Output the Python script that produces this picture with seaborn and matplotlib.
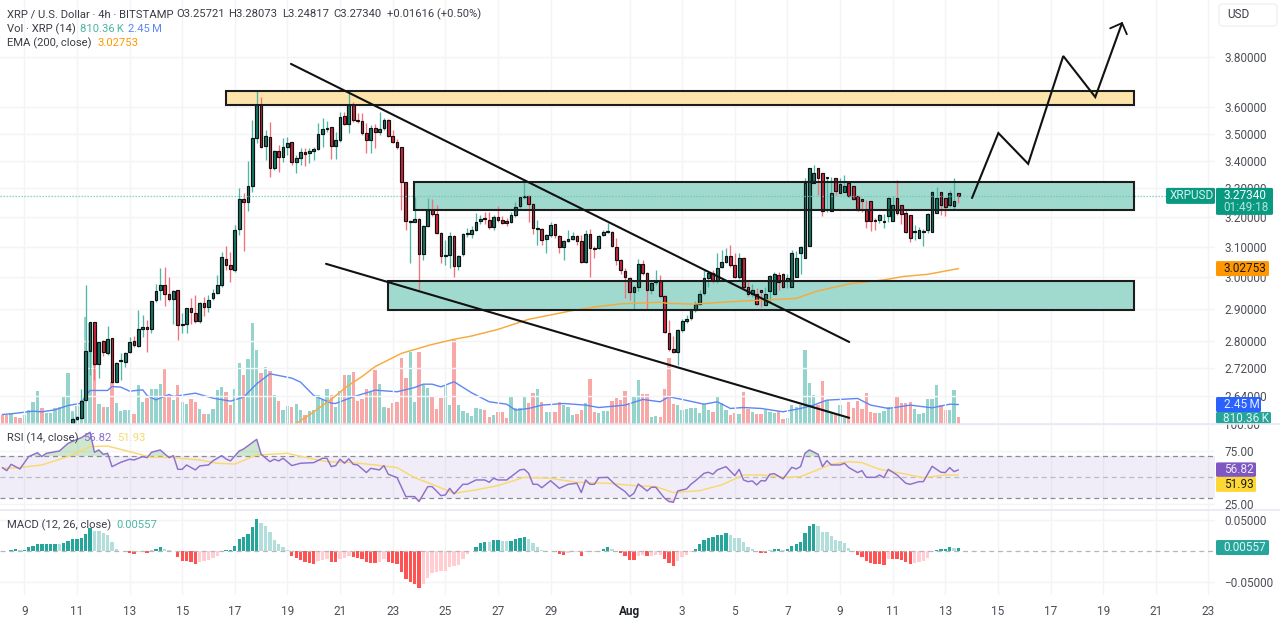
"""
XRP/USD 4h chart with volume, EMA, RSI and MACD panes
"""
import matplotlib
matplotlib.use('Agg')
import matplotlib.pyplot as plt
from matplotlib.patches import FancyBboxPatch, Rectangle
import numpy as np
import pandas as pd
import seaborn as sns

# bar number 0 is 9 July 00:00, one bar every 4 hours, first bar -5
bars = list(range(-5, 214))

opens = [
    2.335, 2.325, 2.320, 2.335, 2.330, 2.325, 2.345, 2.360, 2.385, 2.410, 2.395, 2.410, 2.420, 2.440, 2.460, 2.500,
    2.565, 2.576, 2.579, 2.629, 2.771, 2.859, 2.733, 2.801, 2.765, 2.810,
    2.680, 2.740, 2.739, 2.768, 2.801, 2.786, 2.837, 2.844, 2.837, 2.927,
    2.959, 2.975, 2.946, 2.930, 2.959, 2.850, 2.853, 2.902, 2.887, 2.862,
    2.918, 2.905, 2.934, 2.950, 2.975, 3.059, 3.040, 3.023, 3.159, 3.263,
    3.252, 3.308, 3.483, 3.609, 3.454, 3.487, 3.373, 3.435, 3.413, 3.450,
    3.469, 3.395, 3.410, 3.432, 3.428, 3.435, 3.443, 3.498, 3.517, 3.525,
    3.454, 3.476, 3.566, 3.536, 3.609, 3.551, 3.547, 3.502, 3.476, 3.521,
    3.506, 3.521, 3.551, 3.491, 3.469, 3.450, 3.323, 3.183, 3.183, 3.193,
    3.076, 3.170, 3.224, 3.210, 3.146, 3.069, 3.072, 3.136, 3.036, 3.076,
    3.142, 3.142, 3.156, 3.187, 3.197, 3.190, 3.166, 3.200, 3.190, 3.187,
    3.183, 3.207, 3.238, 3.270, 3.273, 3.245, 3.159, 3.159, 3.125, 3.139,
    3.176, 3.136, 3.099, 3.119, 3.125, 3.136, 3.119, 3.049, 3.142, 3.095,
    3.095, 3.139, 3.149, 3.149, 3.099, 3.056, 3.020, 2.997, 2.953, 2.969,
    3.043, 3.014, 2.959, 2.985, 2.988, 2.940, 2.825, 2.777, 2.768, 2.834,
    2.862, 2.871, 2.896, 2.915, 2.950, 2.997, 3.014, 2.991, 3.033, 3.049,
    3.069, 3.040, 3.001, 3.063, 2.969, 2.946, 2.946, 2.959, 2.912, 2.956,
    2.946, 3.007, 3.010, 2.988, 2.969, 3.001, 3.079, 3.063, 3.102, 3.319,
    3.373, 3.355, 3.337, 3.221, 3.337, 3.284, 3.287, 3.319, 3.308, 3.273,
    3.263, 3.224, 3.255, 3.190, 3.190, 3.183, 3.204, 3.187, 3.266, 3.241,
    3.214, 3.207, 3.149, 3.129, 3.149, 3.156, 3.149, 3.214, 3.287, 3.266,
    3.241, 3.238, 3.284, 3.257,
][:219]
highs = [
    2.340, 2.330, 2.340, 2.340, 2.335, 2.350, 2.365, 2.390, 2.420, 2.415, 2.415, 2.425, 2.445, 2.465, 2.510, 2.562,
    2.582, 2.585, 2.660, 2.975, 2.859, 2.859, 2.798, 2.804, 2.847, 2.810,
    2.739, 2.765, 2.768, 2.813, 2.816, 2.896, 2.881, 2.865, 2.924, 2.978,
    3.030, 3.033, 3.001, 2.959, 2.959, 2.887, 2.902, 2.934, 2.943, 2.921,
    2.937, 2.943, 2.962, 3.007, 3.082, 3.102, 3.082, 3.173, 3.301, 3.284,
    3.398, 3.551, 3.664, 3.640, 3.513, 3.543, 3.439, 3.458, 3.483, 3.487,
    3.469, 3.421, 3.447, 3.447, 3.447, 3.450, 3.540, 3.559, 3.547, 3.525,
    3.506, 3.582, 3.582, 3.656, 3.620, 3.578, 3.578, 3.540, 3.532, 3.536,
    3.582, 3.559, 3.555, 3.513, 3.480, 3.450, 3.323, 3.190, 3.270, 3.197,
    3.173, 3.266, 3.263, 3.241, 3.149, 3.122, 3.149, 3.139, 3.072, 3.146,
    3.163, 3.170, 3.214, 3.207, 3.217, 3.217, 3.207, 3.238, 3.204, 3.197,
    3.217, 3.252, 3.270, 3.330, 3.277, 3.248, 3.190, 3.163, 3.142, 3.183,
    3.176, 3.139, 3.122, 3.156, 3.149, 3.139, 3.139, 3.156, 3.159, 3.102,
    3.139, 3.156, 3.180, 3.153, 3.129, 3.059, 3.030, 3.001, 2.975, 3.059,
    3.056, 3.017, 2.985, 3.023, 3.007, 2.943, 2.865, 2.816, 2.837, 2.868,
    2.881, 2.902, 2.924, 2.959, 3.026, 3.020, 3.023, 3.079, 3.089, 3.095,
    3.105, 3.079, 3.079, 3.066, 2.991, 2.978, 2.966, 2.959, 2.969, 3.007,
    3.017, 3.017, 3.014, 3.010, 3.089, 3.086, 3.102, 3.337, 3.373, 3.384,
    3.359, 3.337, 3.341, 3.341, 3.308, 3.337, 3.348, 3.323, 3.277, 3.266,
    3.259, 3.259, 3.200, 3.197, 3.210, 3.210, 3.270, 3.273, 3.330, 3.227,
    3.227, 3.156, 3.173, 3.166, 3.159, 3.214, 3.290, 3.305, 3.273, 3.248,
    3.294, 3.337, 3.281,
]
lows = [
    2.320, 2.315, 2.315, 2.325, 2.320, 2.320, 2.340, 2.355, 2.380, 2.390, 2.390, 2.405, 2.415, 2.435, 2.455, 2.495,
    2.562, 2.573, 2.576, 2.626, 2.700, 2.686, 2.692, 2.756, 2.759, 2.677,
    2.680, 2.686, 2.724, 2.765, 2.783, 2.783, 2.813, 2.768, 2.825, 2.921,
    2.927, 2.909, 2.924, 2.853, 2.804, 2.825, 2.825, 2.853, 2.856, 2.856,
    2.877, 2.890, 2.927, 2.946, 2.969, 3.023, 2.985, 3.017, 3.139, 3.086,
    3.221, 3.287, 3.465, 3.447, 3.402, 3.341, 3.366, 3.359, 3.395, 3.421,
    3.384, 3.355, 3.384, 3.380, 3.391, 3.402, 3.439, 3.450, 3.506, 3.406,
    3.406, 3.469, 3.532, 3.502, 3.543, 3.540, 3.495, 3.428, 3.428, 3.447,
    3.495, 3.513, 3.487, 3.465, 3.443, 3.224, 3.156, 3.046, 3.183, 2.959,
    3.056, 3.166, 3.204, 3.142, 3.046, 3.040, 3.030, 3.001, 3.023, 3.069,
    3.132, 3.129, 3.153, 3.176, 3.176, 3.159, 3.156, 3.183, 3.176, 3.170,
    3.180, 3.200, 3.231, 3.263, 3.183, 3.142, 3.105, 3.105, 3.079, 3.132,
    3.129, 3.079, 3.056, 3.115, 3.122, 3.105, 3.046, 3.046, 3.001, 3.063,
    3.092, 3.136, 3.146, 3.099, 3.040, 3.010, 2.934, 2.927, 2.896, 2.956,
    3.007, 2.896, 2.946, 2.975, 2.937, 2.825, 2.771, 2.765, 2.730, 2.828,
    2.856, 2.865, 2.890, 2.912, 2.943, 2.969, 2.982, 2.982, 3.030, 3.046,
    3.033, 2.997, 2.994, 2.959, 2.940, 2.937, 2.912, 2.905, 2.927, 2.918,
    2.975, 2.959, 2.966, 2.966, 2.997, 3.056, 3.010, 3.099, 3.277, 3.344,
    3.277, 3.204, 3.217, 3.277, 3.277, 3.284, 3.294, 3.270, 3.259, 3.221,
    3.217, 3.163, 3.153, 3.156, 3.180, 3.163, 3.183, 3.217, 3.207, 3.176,
    3.146, 3.115, 3.122, 3.146, 3.102, 3.146, 3.210, 3.241, 3.207, 3.204,
    3.234, 3.227, 3.248,
]
closes = [
    2.325, 2.320, 2.335, 2.330, 2.325, 2.345, 2.360, 2.385, 2.410, 2.395, 2.410, 2.420, 2.440, 2.460, 2.500, 2.560,
    2.576, 2.582, 2.626, 2.771, 2.859, 2.733, 2.798, 2.768, 2.807, 2.680,
    2.736, 2.743, 2.765, 2.798, 2.789, 2.837, 2.844, 2.837, 2.924, 2.956,
    2.975, 2.946, 2.930, 2.956, 2.850, 2.853, 2.902, 2.890, 2.862, 2.918,
    2.905, 2.927, 2.950, 2.975, 3.066, 3.040, 3.026, 3.156, 3.263, 3.252,
    3.308, 3.483, 3.609, 3.450, 3.491, 3.373, 3.435, 3.413, 3.450, 3.465,
    3.395, 3.410, 3.432, 3.424, 3.435, 3.443, 3.498, 3.517, 3.521, 3.454,
    3.476, 3.562, 3.536, 3.609, 3.551, 3.547, 3.502, 3.476, 3.521, 3.506,
    3.517, 3.551, 3.491, 3.469, 3.450, 3.323, 3.187, 3.187, 3.193, 3.076,
    3.170, 3.224, 3.210, 3.146, 3.069, 3.072, 3.136, 3.036, 3.069, 3.142,
    3.146, 3.156, 3.183, 3.193, 3.193, 3.166, 3.200, 3.190, 3.180, 3.180,
    3.207, 3.234, 3.270, 3.273, 3.245, 3.163, 3.163, 3.122, 3.139, 3.173,
    3.139, 3.099, 3.119, 3.125, 3.136, 3.119, 3.049, 3.142, 3.095, 3.092,
    3.136, 3.149, 3.153, 3.102, 3.056, 3.023, 3.001, 2.953, 2.969, 3.043,
    3.014, 2.959, 2.982, 2.988, 2.940, 2.828, 2.777, 2.768, 2.834, 2.862,
    2.868, 2.896, 2.915, 2.946, 2.997, 3.014, 2.991, 3.030, 3.049, 3.069,
    3.040, 3.001, 3.063, 2.969, 2.946, 2.959, 2.915, 2.953, 2.946, 3.004,
    3.010, 2.985, 2.969, 2.997, 3.079, 3.063, 3.099, 3.319, 3.373, 3.355,
    3.337, 3.221, 3.337, 3.284, 3.290, 3.316, 3.308, 3.273, 3.263, 3.224,
    3.255, 3.187, 3.187, 3.187, 3.207, 3.187, 3.266, 3.241, 3.214, 3.210,
    3.149, 3.129, 3.149, 3.156, 3.149, 3.210, 3.287, 3.266, 3.241, 3.234,
    3.284, 3.255, 3.2734,
]

# volume in millions
volumes = [
    1.08, 1.12, 1.33, 0.82, 0.69, 1.12, 1.68, 2.75, 4.13, 1.98, 1.38, 1.33, 2.02, 2.11, 3.48, 6.49,
    1.59, 2.32, 2.97, 13.72, 12.94, 7.70, 2.54, 2.11, 2.19, 5.33,
    2.62, 1.55, 1.76, 1.68, 1.25, 4.99, 2.75, 3.31, 4.43, 4.43,
    5.03, 7.05, 3.61, 3.05, 4.99, 2.75, 2.54, 3.18, 2.75, 1.89,
    1.25, 1.25, 1.81, 4.26, 4.77, 4.04, 2.41, 4.47, 7.78, 6.28,
    8.34, 12.90, 9.42, 6.49, 7.27, 6.75, 3.70, 2.84, 1.68, 2.32,
    2.19, 2.45, 1.76, 1.16, 1.55, 1.68, 3.61, 3.18, 4.47, 3.66,
    2.15, 4.17, 6.24, 6.24, 6.67, 2.88, 3.10, 4.39, 4.09, 6.88,
    5.07, 2.15, 1.94, 2.67, 2.80, 8.39, 5.93, 9.25, 2.80, 9.16,
    4.95, 4.52, 3.44, 1.81, 3.23, 4.95, 2.37, 10.75, 2.37, 1.63,
    1.29, 0.95, 2.06, 1.81, 1.72, 0.86, 1.08, 1.51, 1.51, 0.65,
    3.44, 1.94, 1.94, 3.44, 2.67, 3.96, 4.39, 2.80, 1.51, 1.51,
    1.51, 2.80, 2.37, 2.15, 1.08, 1.20, 1.72, 2.58, 5.68, 1.51,
    1.29, 1.63, 1.63, 2.88, 3.23, 3.01, 4.17, 2.67, 3.44, 5.59,
    3.74, 3.74, 0.86, 0.95, 0.86, 4.39, 8.39, 2.49, 2.37, 1.72,
    1.81, 1.94, 1.94, 1.38, 2.49, 1.72, 1.51, 3.44, 2.67, 1.72,
    1.08, 1.29, 1.20, 4.09, 1.81, 1.51, 1.20, 1.20, 1.72, 1.51,
    1.38, 1.63, 0.52, 0.65, 2.37, 2.15, 2.37, 9.46, 5.25, 3.66,
    2.37, 5.50, 3.01, 1.29, 1.20, 2.37, 0.77, 2.80, 1.94, 2.92,
    1.81, 3.87, 1.51, 1.29, 1.38, 1.63, 2.15, 2.15, 3.57, 2.58,
    2.67, 2.80, 1.81, 1.20, 1.29, 3.10, 3.10, 4.95, 2.37, 1.72,
    1.72, 4.30, 0.81,
]

vol_ma_bars = [-5, -3, 2, 4, 7, 10, 13, 14, 15, 19, 20, 22, 24, 27, 28, 30, 33, 34, 39, 43, 47, 50, 53, 56, 61, 63, 66, 70,
               71, 75, 80, 85, 89, 91, 93, 95, 98, 102, 106, 110, 112, 115, 118, 123, 128, 131, 137, 141, 145,
               147, 150, 155, 158, 161, 164, 168, 173, 177, 180, 183, 190, 193, 197, 202, 207, 211, 213]
vol_ma_vals = [1.16, 1.25, 1.59, 1.51, 1.76, 2.32, 2.62, 3.61, 4.26, 4.26, 4.77, 4.69, 4.17, 4.34, 3.61, 3.05, 3.74, 3.48,
               3.91, 3.27, 2.88, 3.40, 5.12, 6.41, 5.85, 5.33, 3.61, 2.62,
               2.58, 3.44, 4.30, 4.09, 4.64, 5.07, 5.07, 4.73, 5.38, 3.96, 2.80, 2.49, 1.72, 1.94, 2.37, 2.58, 2.37,
               2.06, 2.37, 3.10, 2.80,
               3.44, 3.10, 2.49, 2.80, 1.94, 2.06, 1.94, 1.51, 1.94, 2.37, 3.01, 3.23, 2.37, 1.94, 2.37, 2.02, 2.49, 2.45]

ema_bars = [62, 65, 70, 73.5, 77, 80, 86, 92.5, 98, 102, 108, 115, 125, 130.5, 136, 145,
            146.5, 152.5, 158, 165.5, 169, 176, 180.5, 188, 196, 200.5, 206, 213]
ema_vals = [2.564, 2.587, 2.631, 2.667, 2.696, 2.725, 2.764, 2.789, 2.806, 2.816, 2.836, 2.867, 2.894, 2.906, 2.915, 2.920,
            2.917, 2.914, 2.919, 2.925, 2.927, 2.932, 2.954, 2.978, 2.991, 3.002, 3.009, 3.0275]

rsi_bars = [-5, -4, -3, -1, 1, 3, 4, 5, 8, 10, 13, 15, 16, 17, 18, 19, 20, 22, 24, 25, 27, 28, 29, 31, 33, 34, 35, 36, 37, 39,
            40, 42, 43, 45, 46, 47, 49, 50, 53, 54, 56, 57, 58, 59, 61, 63, 66, 68, 69, 70, 71, 72, 73, 74, 75, 76, 78, 79,
            81, 82, 83, 85, 87, 89, 90, 92, 93, 95, 96, 97, 98, 100, 101, 103, 105, 106, 107, 108,
            110, 113, 114, 115, 116, 117, 118, 120, 122, 124, 126, 127, 128, 129, 130, 131, 133, 135, 137, 138, 139, 140,
            142, 143, 144, 146, 147, 148, 149, 151, 152, 153, 155, 156, 157, 158, 160, 162, 163, 164, 165, 166, 167, 168,
            169, 170, 171, 173, 175, 176, 177, 178, 179, 181, 182, 183, 184, 186, 187, 188, 190, 191, 192, 194, 195, 196,
            197, 199, 201, 202, 204, 205, 207, 209, 210, 211, 212, 213]
rsi_vals = [59.0, 56.1, 62.1, 57.7, 69.4, 73.1, 69.4, 72.5, 74.7, 82.0, 87.3, 92.4, 73.5, 75.7, 71.6, 72.5, 59.9, 64.0, 66.9,
            66.2, 69.4, 68.4, 73.5, 75.7, 68.4, 70.3, 57.4, 57.4, 61.5, 56.8,
            60.6, 61.5, 65.3, 70.3, 67.2, 65.3, 74.7, 76.6, 85.7, 71.6, 64.6, 66.9, 65.3, 67.8, 60.9, 63.1, 63.7, 67.8, 67.8,
            59.9, 60.9, 66.9, 63.1, 67.2, 62.1, 61.5, 54.3, 58.3,
            56.8, 60.9, 52.7, 49.5, 31.6, 31.6, 26.9, 41.0, 41.0, 32.5, 33.1, 39.4, 34.1, 43.2, 43.2, 47.3, 47.3, 45.1, 48.9, 47.3,
            47.3, 56.8, 57.4, 53.6, 43.2, 43.2, 40.0, 46.6, 39.4, 43.2, 44.2, 35.4, 47.3, 43.2, 43.2, 49.5, 49.8, 42.0, 36.3,
            31.6, 34.7, 43.5,
            36.9, 40.4, 40.4, 30.0, 26.9, 26.2, 36.9, 38.8, 43.2, 46.4, 53.6, 54.6, 52.7, 56.8, 59.9, 51.4, 57.4, 47.3, 45.7,
            46.4, 42.6, 46.7,
            46.4, 52.7, 53.3, 48.3, 59.3, 57.7, 59.9, 72.5, 75.7, 71.6, 59.9, 65.6, 61.5, 61.5, 63.1, 59.0, 54.3, 56.1, 49.8,
            49.8, 52.0, 49.5,
            57.4, 52.0, 44.2, 43.2, 45.7, 45.7, 60.2, 54.6, 54.3, 59.0, 55.2, 56.82]

rsi_ma_bars = [-5, -1, 4, 10, 15, 19, 24, 29, 33, 40, 44, 48, 53, 60, 64, 69, 74, 80, 85, 89, 93, 98, 103, 108,
               114, 120, 126, 133, 139, 144, 148, 154, 159, 164, 168, 174, 177, 184, 188, 191, 195, 200, 205, 210, 213]
rsi_ma_vals = [58.3, 59.0, 61.5, 69.4, 78.8, 79.4, 74.1, 68.7, 68.7, 66.2, 63.1, 62.4, 70.9, 72.5, 68.7, 64.6, 64.0, 61.5, 59.0,
               49.5, 43.2, 34.7, 37.9, 42.0,
               49.8, 48.9, 45.1, 44.2, 42.0, 41.0, 35.4, 37.2, 42.6, 52.0, 52.0, 49.8, 50.5, 62.1, 64.6, 63.7, 57.4, 53.6, 49.5,
               52.0, 51.93]

macd_hist = [
    0.0005, 0.0008, 0.0021, 0.0027, 0.0011, 0.0016, 0.0059, 0.0080, 0.0112, 0.0115, 0.0116, 0.0117, 0.0118, 0.0115, 0.0123, 0.0161,
    0.0187, 0.0190, 0.0203, 0.0273, 0.0375, 0.0326, 0.0321, 0.0294, 0.0251, 0.0139,
    0.0037, 0.0003, -0.0021, -0.0032, -0.0043, -0.0021, -0.0011, -0.0037, 0.0011, 0.0037,
    0.0059, 0.0037, 0.0011, 0.0002, -0.0102, -0.0155, -0.0161, -0.0171, -0.0203, -0.0171,
    -0.0161, -0.0150, -0.0118, -0.0080, -0.0011, 0.0011, 0.0013, 0.0086, 0.0187, 0.0230,
    0.0273, 0.0385, 0.0508, 0.0444, 0.0396, 0.0300, 0.0182, 0.0118, 0.0059, 0.0021,
    -0.0075, -0.0107, -0.0150, -0.0182, -0.0193, -0.0203, -0.0161, -0.0144, -0.0128, -0.0171,
    -0.0174, -0.0128, -0.0118, -0.0086, -0.0096, -0.0107, -0.0134, -0.0182, -0.0185, -0.0193,
    -0.0182, -0.0134, -0.0182, -0.0198, -0.0214, -0.0332, -0.0449, -0.0492, -0.0530, -0.0589,
    -0.0535, -0.0428, -0.0348, -0.0332, -0.0326, -0.0316, -0.0251, -0.0241, -0.0225, -0.0134,
    -0.0054, 0.0005, 0.0070, 0.0123, 0.0150, 0.0144, 0.0171, 0.0174, 0.0161, 0.0158,
    0.0166, 0.0187, 0.0203, 0.0219, 0.0193, 0.0123, 0.0064, 0.0021, -0.0021, -0.0002,
    -0.0021, -0.0054, -0.0059, -0.0027, -0.0021, -0.0016, -0.0075, -0.0016, -0.0015, -0.0011,
    0.0001, 0.0032, 0.0059, 0.0027, 0.0002, -0.0037, -0.0075, -0.0139, -0.0142, -0.0080,
    -0.0064, -0.0086, -0.0075, -0.0064, -0.0059, -0.0134, -0.0198, -0.0241, -0.0161, -0.0091,
    -0.0064, -0.0021, 0.0037, 0.0112, 0.0171, 0.0214, 0.0225, 0.0251, 0.0262, 0.0284,
    0.0251, 0.0209, 0.0206, 0.0144, 0.0064, 0.0027, -0.0021, -0.0024, -0.0037, 0.0011,
    0.0032, 0.0035, 0.0016, 0.0032, 0.0086, 0.0107, 0.0139, 0.0284, 0.0407, 0.0439,
    0.0407, 0.0310, 0.0300, 0.0246, 0.0177, 0.0161, 0.0123, 0.0043, -0.0021, -0.0064,
    -0.0091, -0.0161, -0.0187, -0.0214, -0.0216, -0.0217, -0.0123, -0.0128, -0.0134, -0.0139,
    -0.0182, -0.0203, -0.0187, -0.0182, -0.0161, -0.0107, -0.0011, 0.0011, 0.0027, 0.0028,
    0.0059, 0.0048, 0.00557,
]

# days after 9 July for the time axis
tick_days = [0, 2, 4, 6, 8, 10, 12, 14, 16, 18, 20, 23, 25, 27, 29, 31, 33, 35, 37, 39, 41, 43, 45]
tick_names = ['9', '11', '13', '15', '17', '19', '21', '23', '25', '27', '29', 'Aug',
              '3', '5', '7', '9', '11', '13', '15', '17', '19', '21', '23']

price_ticks = [3.8, 3.6, 3.5, 3.4, 3.3, 3.2, 3.1, 3.0, 2.9, 2.8, 2.72, 2.64]

# hand drawn trend lines, zones and forecast path
trend_a_bars, trend_a_prices = [60.8, 188.1], [3.772, 2.798]
trend_b_bars, trend_b_prices = [68.8, 188.1], [3.043, 2.579]
zone_left = [46.0, 88.9, 82.9]
zone_right = 253.1
zone_low = [3.609, 3.224, 2.896]
zone_high = [3.664, 3.323, 2.988]
zone_color = ['#fde3a7', '#98d6ca', '#98d6ca']
path_bars = [216.1, 222.1, 228.9, 236.9, 244.2, 250.3]
path_prices = [3.266, 3.502, 3.388, 3.804, 3.640, 3.941]
head_bars = [247.6, 250.3, 251.4]
head_prices = [3.919, 3.941, 3.894]

colors = {
    'up': '#26a69a',
    'down': '#ef5350',
    'up_body': '#0f7a68',
    'down_body': '#d3233a',
    'up_wick': '#4db6a6',
    'down_wick': '#f4707c',
    'up_vol': '#95d4cc',
    'down_vol': '#f9a8a8',
    'grid': '#f3f4f6',
    'text': '#3a3d45',
    'tick': '#4c4f58',
    'sep': '#e6e6f0',
    'blue': '#5c86f5',
    'tag_blue': '#2962ff',
    'ema': '#f8a93c',
    'tag_ema': '#ff9800',
    'rsi': '#8e6fcb',
    'tag_rsi': '#7e57c2',
    'rsi_ma': '#f9d96e',
    'tag_rsi_ma': '#fdd835',
    'tag_green': '#089981',
    'tag_teal': '#26a69a',
}

sns.set_theme(style='white')
plt.rcParams['font.family'] = ['Roboto', 'DejaVu Sans']
plt.rcParams['axes.unicode_minus'] = True

W, H = 1280, 620
PANE_RIGHT = 1215
FONT = 8.5
LEGEND_FONT = 8.1
fig = plt.figure(figsize=(W / 100, H / 100), dpi=100, facecolor='white')


def pane(top, bottom):
    return fig.add_axes([0, 1 - bottom / H, PANE_RIGHT / W, (bottom - top) / H])


ax = pane(0, 423.5)
ax_vol = ax.twinx()
ax_rsi = pane(423.5, 510)
ax_macd = pane(510, 595)
x_min, x_max = -5.54, 271.5
tick_bars = [d * 6 for d in tick_days]

df = pd.DataFrame({'bar': bars, 'open': opens, 'high': highs, 'low': lows, 'close': closes, 'vol': volumes,
                   'macd': macd_hist})
df['side'] = np.where(df['close'] >= df['open'], 'up', 'down')

# volume behind the candles, no edge or the white theme edge eats the bars
sns.barplot(data=df, x='bar', y='vol', hue='side', palette={'up': colors['up_vol'], 'down': colors['down_vol']},
            native_scale=True, dodge=False, width=0.76, saturation=1, errorbar=None, legend=False, linewidth=0,
            edgecolor='none', ax=ax_vol)
sns.lineplot(x=vol_ma_bars, y=vol_ma_vals, color=colors['blue'], linewidth=1.0, errorbar=None, ax=ax_vol)
ax_vol.set_ylim(0, 54.6)
ax_vol.set_yticks([])
ax_vol.set_ylabel('')
ax_vol.set_xlabel('')
for s in ax_vol.spines.values():
    s.set_visible(False)
ax_vol.set_zorder(1)
ax.set_zorder(2)
ax.patch.set_visible(False)

# candles
for side in ['up', 'down']:
    part = df[df['side'] == side]
    ax.vlines(part['bar'], part['low'], part['high'], color=colors[side + '_wick'], linewidth=0.95, zorder=3)
    bottom = part[['open', 'close']].min(axis=1)
    top = part[['open', 'close']].max(axis=1)
    ax.bar(part['bar'], (top - bottom).clip(lower=0.002), bottom=bottom, width=0.62, color=colors[side + '_body'],
           edgecolor='#111111', linewidth=0.85, zorder=4)

sns.lineplot(x=ema_bars, y=ema_vals, color=colors['ema'], linewidth=1.05, errorbar=None, ax=ax, zorder=5)
ax.axhline(closes[-1], xmax=(1166 / PANE_RIGHT), color='#6cc4b8', linestyle=(0, (1, 1.4)), linewidth=0.9, zorder=5)

ax.set_yscale('log')
ax.set_ylim(2.5634, 4.040)
ax.set_yticks(price_ticks)
ax.set_yticklabels([f'{p:.5f}' for p in price_ticks])
ax.minorticks_off()

# drawings
for left, low, high, c in zip(zone_left, zone_low, zone_high, zone_color):
    ax.add_patch(Rectangle((left, low), zone_right - left, high - low, facecolor=c, alpha=0.96 if c == '#fde3a7' else 0.92,
                           edgecolor='none', zorder=2))
    ax.add_patch(Rectangle((left, low), zone_right - left, high - low, facecolor='none', edgecolor='#1c1c1c',
                           linewidth=1.5, zorder=6))
ax.plot(trend_a_bars, trend_a_prices, color='#111111', linewidth=1.5, zorder=6)
ax.plot(trend_b_bars, trend_b_prices, color='#111111', linewidth=1.5, zorder=6)
ax.plot(path_bars, path_prices, color='#111111', linewidth=1.5, zorder=6, solid_joinstyle='miter')
ax.plot(head_bars, head_prices, color='#111111', linewidth=1.3, zorder=6)

# RSI pane
ax_rsi.axhspan(30, 70, color=colors['tag_rsi'], alpha=0.1, linewidth=0, xmax=1)
rsi_x, rsi_y = np.array(rsi_bars, dtype=float), np.array(rsi_vals)
ax_rsi.fill_between(rsi_x, 70, rsi_y, where=rsi_y >= 70, interpolate=True, color='#4caf50', alpha=0.28, linewidth=0)
ax_rsi.fill_between(rsi_x, 30, rsi_y, where=rsi_y <= 30, interpolate=True, color='#ef5350', alpha=0.25, linewidth=0)
for level, dash_color in [(70, '#8a8d96'), (50, '#b9bbc2'), (30, '#8a8d96')]:
    ax_rsi.axhline(level, color=dash_color, linestyle=(0, (4, 3)), linewidth=0.9, zorder=1)
sns.lineplot(x=rsi_ma_bars, y=rsi_ma_vals, color=colors['rsi_ma'], linewidth=1.05, errorbar=None, ax=ax_rsi)
sns.lineplot(x=rsi_bars, y=rsi_vals, color=colors['rsi'], linewidth=1.05, errorbar=None, ax=ax_rsi)
ax_rsi.set_ylim(18.9, 100.7)
ax_rsi.set_yticks([100, 75, 25])
ax_rsi.set_yticklabels(['100.00', '75.00', '25.00'])

# MACD pane
hist = df['macd']
falling = hist.abs() < hist.abs().shift(1)
df['macd_kind'] = np.where(hist >= 0, np.where(falling, 'up_fall', 'up_grow'), np.where(falling, 'down_fall', 'down_grow'))
sns.barplot(data=df, x='bar', y='macd', hue='macd_kind',
            palette={'up_grow': '#26a69a', 'up_fall': '#b2dfdb', 'down_grow': '#ff5252', 'down_fall': '#ffcdd2'},
            native_scale=True, dodge=False, width=0.76, saturation=1, errorbar=None, legend=False, linewidth=0,
            edgecolor='none', ax=ax_macd)
ax_macd.axhline(0, color='#b5b7bd', linestyle=(0, (4, 3)), linewidth=0.9, zorder=1)
ax_macd.set_ylim(-0.0706, 0.0658)
ax_macd.set_yticks([0.05, -0.05])
ax_macd.set_yticklabels(['0.05000', '\u22120.05000'])

# grids, ticks and frame shared by the panes
for a in [ax, ax_rsi, ax_macd]:
    a.set_xlim(x_min, x_max)
    a.set_xticks(tick_bars)
    a.set_axisbelow(True)
    a.grid(True, color=colors['grid'], linewidth=1.0)
    a.yaxis.tick_right()
    a.set_xlabel('')
    a.set_ylabel('')
    a.tick_params(axis='y', length=0, pad=6.5, labelsize=FONT, labelcolor=colors['tick'])
    a.tick_params(axis='x', length=0, labelbottom=False)
    for s in a.spines.values():
        s.set_visible(False)
ax_vol.set_xlim(x_min, x_max)
ax_macd.tick_params(axis='x', labelbottom=True, pad=7, labelsize=FONT, labelcolor=colors['tick'])
ax_macd.set_xticklabels(tick_names)
for lab in ax_macd.get_xticklabels():
    if lab.get_text() == 'Aug':
        lab.set_fontweight('bold')
        lab.set_color('#1f2128')

# overlay in pixels for the legend rows and the value tags
ov = fig.add_axes([0, 0, 1, 1], zorder=10)
ov.set_xlim(0, W)
ov.set_ylim(H, 0)
ov.axis('off')
ov.patch.set_visible(False)

for y in [423.5, 510]:
    ov.plot([0, W], [y, y], color=colors['sep'], linewidth=1.1)


def y_px(a, value):
    return H - a.transData.transform((0, value))[1]


def tag(x0, x1, y0, y1, face, lines):
    ov.add_patch(FancyBboxPatch((x0, y0), x1 - x0, y1 - y0, boxstyle='round,pad=0,rounding_size=1.5',
                                facecolor=face, edgecolor='none'))
    for text, tx, ty, c in lines:
        ov.text(tx, ty, text, color=c, fontsize=FONT, ha='left', va='center')


price_y = y_px(ax, closes[-1])
tag(1166, 1215, price_y - 8, price_y + 8, colors['tag_green'], [('XRPUSD', 1170, price_y, '#d9f2ec')])
tag(1216, 1273, price_y - 8, price_y + 19, colors['tag_green'],
    [('3.27340', 1224, price_y, '#ffffff'), ('01:49:18', 1223, price_y + 12, '#b5e3da')])
ema_y = y_px(ax, ema_vals[-1])
tag(1216, 1269, ema_y - 7.5, ema_y + 7.5, colors['tag_ema'], [('3.02753', 1224, ema_y, '#1a1a1a')])
ma_y = y_px(ax_vol, vol_ma_vals[-1])
tag(1216, 1261, ma_y - 7.5, ma_y + 7.5, colors['tag_blue'], [('2.45\u2009M', 1224, ma_y, '#e6ecff')])
tag(1216, 1271, ma_y + 7.5, 423.5, colors['tag_teal'], [('810.36\u2009K', 1223, ma_y + 14, '#dff3f0')])
rsi_y_px = y_px(ax_rsi, rsi_vals[-1])
tag(1216, 1256, rsi_y_px - 7.5, rsi_y_px + 7, colors['tag_rsi'], [('56.82', 1224, rsi_y_px, '#eee8f8')])
tag(1216, 1256, rsi_y_px + 7, rsi_y_px + 22, colors['tag_rsi_ma'], [('51.93', 1224, rsi_y_px + 14.5, '#1a1a1a')])
macd_y = y_px(ax_macd, macd_hist[-1])
tag(1216, 1269, macd_y - 7.5, macd_y + 7.5, colors['tag_teal'], [('0.00557', 1223, macd_y, '#e6f5f3')])

# currency button
ov.add_patch(FancyBboxPatch((1219, 4), 58, 22, boxstyle='round,pad=0,rounding_size=3', facecolor='white',
                            edgecolor='#eeeff2', linewidth=0.9))
ov.text(1227, 15, 'USD', color=colors['text'], fontsize=FONT, ha='left', va='center')

legend_rows = [
    (7, 14, 'XRP / U.S. Dollar \u00b7 4h \u00b7 BITSTAMP', colors['text']),
    (176, 14, 'O3.25721', colors['text']),
    (228.5, 14, 'H3.28073', colors['text']),
    (282, 14, 'L3.24817', colors['text']),
    (333.5, 14, 'C3.27340', colors['text']),
    (387, 14, '+0.01616 (+0.50%)', colors['text']),
    (7, 29, 'Vol \u00b7 XRP (14)', colors['text']),
    (80, 29, '810.36\u2009K', '#4db6a6'),
    (128, 29, '2.45\u2009M', '#5c86f5'),
    (7, 43.5, 'EMA (200, close)', colors['text']),
    (97, 43.5, '3.02753', colors['tag_ema']),
    (7, 438, 'RSI (14, close)', colors['text']),
    (83, 438, '56.82', colors['rsi']),
    (117.5, 438, '51.93', colors['rsi_ma']),
    (7, 525, 'MACD (12, 26, close)', colors['text']),
    (116, 525, '0.00557', '#4db6a6'),
]
for x, y, text, c in legend_rows:
    ov.text(x, y, text, color=c, fontsize=LEGEND_FONT, ha='left', va='center')

fig.savefig('out.png', dpi=100, facecolor='white')
plt.close(fig)
